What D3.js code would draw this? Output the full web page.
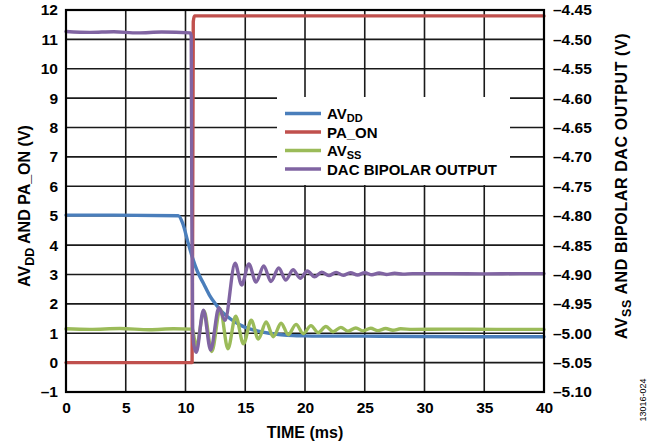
<!DOCTYPE html>
<html><head><meta charset="utf-8">
<script src="https://cdn.jsdelivr.net/npm/d3@7/dist/d3.min.js"></script>
<style>
html,body{margin:0;padding:0;background:#fff;}
svg text{font-family:"Liberation Sans",Arial,Helvetica,sans-serif;font-weight:bold;fill:#000;}
</style></head>
<body><svg id="c" width="654" height="448"></svg>
<script>
// ---- data ----
const xTicks = [0,5,10,15,20,25,30,35,40];
const leftTicks = [-1,0,1,2,3,4,5,6,7,8,9,10,11,12];
const rightTicks = [-5.10,-5.05,-5.00,-4.95,-4.90,-4.85,-4.80,-4.75,-4.70,-4.65,-4.60,-4.55,-4.50,-4.45];

// AVDD (left axis, V)
const avddTime = [0,4,9.4,9.8,10.2,10.6,11,11.5,12,12.5,13,13.5,14,14.5,15,16,17,18,19,20,22,25,30,35,40];
const avddVal  = [5.02,5.02,5.0,4.7,4.1,3.55,3.1,2.7,2.3,2.0,1.75,1.57,1.42,1.3,1.2,1.08,1.0,0.95,0.92,0.91,0.9,0.9,0.89,0.88,0.88];

// PA_ON (left axis, V)
const paTime = [0,10.55,10.6,10.65,10.75,40];
const paVal  = [0,0,5,11.6,11.8,11.8];

// AVSS (right axis, V)
const avssTime = [0,2,4.5,7,9,10.55,10.9,11.55,12.2,12.9,13.55,14.2,14.85,15.5,16.1,16.75,17.35,18.0,18.6,19.25,19.85,20.5,21.1,21.75,22.35,23.0,23.6,24.25,24.85,25.5,26.1,26.75,27.35,28.0,29,32,36,40];
const avssVal  = [-4.9925,-4.9935,-4.992,-4.994,-4.9925,-4.993,-5.0225,-4.962,-5.031,-4.9585,-5.0265,-4.971,-5.018,-4.978,-5.010,-4.981,-5.006,-4.983,-5.0025,-4.985,-5.0005,-4.987,-4.999,-4.9885,-4.9975,-4.990,-4.9965,-4.991,-4.996,-4.9915,-4.9955,-4.992,-4.995,-4.9925,-4.9935,-4.993,-4.9935,-4.9935];

// DAC bipolar output (right axis, V)
const dacTime = [0,2,4,6,8,10.4,10.48,10.53,10.6,10.7,10.9,11.5,12.1,12.8,13.3,14.15,14.7,15.3,15.9,16.55,17.15,17.8,18.4,19.0,19.6,20.2,20.8,21.4,22.0,22.6,23.2,23.8,24.4,25.0,25.6,26.2,26.8,27.5,28.2,29,32,35,38,40];
const dacVal  = [-4.4865,-4.488,-4.487,-4.489,-4.4875,-4.489,-4.495,-4.80,-4.99,-5.02,-5.0325,-4.961,-5.0285,-4.9565,-4.978,-4.881,-4.918,-4.882,-4.913,-4.8855,-4.912,-4.889,-4.9095,-4.892,-4.9065,-4.894,-4.904,-4.896,-4.902,-4.8965,-4.9015,-4.897,-4.901,-4.897,-4.9005,-4.8975,-4.900,-4.898,-4.8995,-4.8985,-4.8985,-4.899,-4.8985,-4.8985];

const legendItems = [
  {name:"AV", sub:"DD", color:"#4A7EBB"},
  {name:"PA_ON", sub:"", color:"#C0504D"},
  {name:"AV", sub:"SS", color:"#9BBB59"},
  {name:"DAC BIPOLAR OUTPUT", sub:"", color:"#8064A2"}
];

// ---- layout ----
const L=66, R=544, T=10, B=392;
const svg = d3.select("#c");
const x = d3.scaleLinear().domain([0,40]).range([L,R]);
const yL = d3.scaleLinear().domain([-1,12]).range([B,T]);
const yR = d3.scaleLinear().domain([-5.10,-4.45]).range([B,T]);

// grid
const g = svg.append("g");
g.selectAll("line.h").data(leftTicks.slice(1,-1)).enter().append("line")
  .attr("x1",L).attr("x2",R).attr("y1",d=>yL(d)).attr("y2",d=>yL(d))
  .attr("stroke","#1a1a1a").attr("stroke-width",1.6);
g.selectAll("line.v").data(xTicks.slice(1,-1)).enter().append("line")
  .attr("y1",T).attr("y2",B).attr("x1",d=>x(d)).attr("x2",d=>x(d))
  .attr("stroke","#1a1a1a").attr("stroke-width",1.6);

// legend box (covers grid)
svg.append("rect").attr("x",277).attr("y",97).attr("width",233).attr("height",88).attr("fill","#fff");

// axes (labels only)
const axL = d3.axisLeft(yL).tickValues(leftTicks).tickSize(0).tickPadding(8)
  .tickFormat(d=>d<0?"\u2013"+Math.abs(d):d);
const gl = svg.append("g").attr("transform",`translate(${L},0)`).call(axL);
const axR = d3.axisRight(yR).tickValues(rightTicks).tickSize(0).tickPadding(9)
  .tickFormat(d=>"\u2013"+Math.abs(d).toFixed(2));
const gr = svg.append("g").attr("transform",`translate(${R},0)`).call(axR);
const axB = d3.axisBottom(x).tickValues(xTicks).tickSize(0).tickPadding(10);
const gb = svg.append("g").attr("transform",`translate(0,${B})`).call(axB);
[gl,gr,gb].forEach(a=>{a.select(".domain").remove();
  a.selectAll("text").style("font-size","15.5px").style("font-weight","bold")
   .style("font-family","'Liberation Sans',Arial,sans-serif").attr("fill","#000");});

// series
function mk(t,v,ys){return t.map((d,i)=>[x(d),ys(v[i])]);}
const line = d3.line().curve(d3.curveMonotoneX);
const lines = [
  {pts:mk(paTime,paVal,yL), color:"#C0504D"},
  {pts:mk(avddTime,avddVal,yL), color:"#4A7EBB"},
  {pts:mk(avssTime,avssVal,yR), color:"#9BBB59"},
  {pts:mk(dacTime,dacVal,yR), color:"#8064A2"}
];
svg.append("g").selectAll("path").data(lines).enter().append("path")
  .attr("d",d=>line(d.pts)).attr("fill","none").attr("stroke",d=>d.color)
  .attr("stroke-width",3.4).attr("stroke-linejoin","round").attr("stroke-linecap","round");

// frame
svg.append("rect").attr("x",L).attr("y",T).attr("width",R-L).attr("height",B-T)
  .attr("fill","none").attr("stroke","#000").attr("stroke-width",2.2);

// legend
const lg = svg.append("g");
const rowY = [113.5,132,150.5,169];
legendItems.forEach((it,i)=>{
  lg.append("line").attr("x1",285).attr("x2",321).attr("y1",rowY[i]).attr("y2",rowY[i])
    .attr("stroke",it.color).attr("stroke-width",3.4);
  const t = lg.append("text").attr("x",327).attr("y",rowY[i]+5.5).style("font-size","15px");
  t.append("tspan").text(it.name);
  if(it.sub){t.append("tspan").attr("dy",2.5).style("font-size","11px").text(it.sub);}
});

// axis titles
const tl = svg.append("text").attr("transform","translate(30,206) rotate(-90)")
  .attr("text-anchor","middle").style("font-size","16px");
tl.append("tspan").text("AV");
tl.append("tspan").attr("dy",3.5).style("font-size","12.5px").text("DD");
tl.append("tspan").attr("dy",-3.5).text(" AND PA_ON (V)");

const tr = svg.append("text").attr("transform","translate(627,186) rotate(-90)")
  .attr("text-anchor","middle").style("font-size","16px").style("letter-spacing","0.6px");
tr.append("tspan").text("AV");
tr.append("tspan").attr("dy",3.5).style("font-size","12.5px").text("SS");
tr.append("tspan").attr("dy",-3.5).text(" AND BIPOLAR DAC OUTPUT (V)");

svg.append("text").attr("x",305).attr("y",438).attr("text-anchor","middle")
  .style("font-size","16px").text("TIME (ms)");

svg.append("text").attr("transform","translate(646,400) rotate(-90)")
  .attr("text-anchor","middle").style("font-size","9px").style("font-weight","normal")
  .text("13016-024");
</script></body></html>
